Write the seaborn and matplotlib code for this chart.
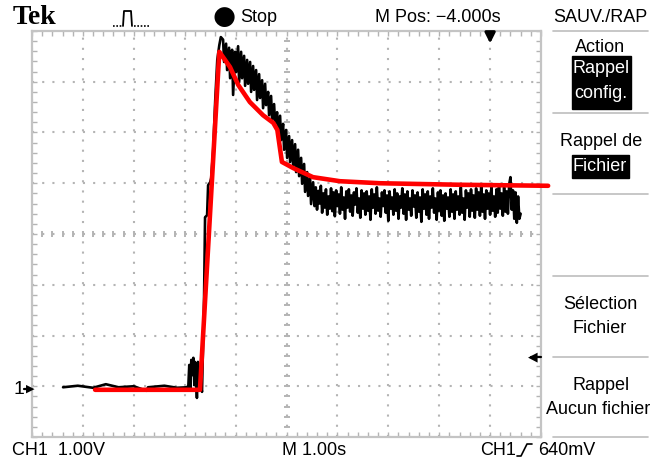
import numpy as np
import pandas as pd
import matplotlib
matplotlib.use("Agg")
import matplotlib.pyplot as plt
import seaborn as sns
from matplotlib.lines import Line2D
from matplotlib.patches import Rectangle
from matplotlib.ticker import MultipleLocator

# ---------------- data (time in s, voltage in V, ground at 0 V) ----------------
red_t = [-7.76, -5.70, -5.32, -5.11, -4.95, -4.72, -4.46, -4.26, -4.18, -4.09,
         -3.87, -3.48, -2.95, -2.16, -0.59, 1.14]
red_v = [-0.07, -0.07, 6.59, 6.29, 5.94, 5.60, 5.34, 5.19, 5.05, 4.42,
         4.30, 4.12, 4.04, 4.00, 3.97, 3.95]

base_t = [-8.39, -8.10, -7.80, -7.55, -7.30, -7.00, -6.75, -6.72, -6.40, -6.15, -5.95]
base_v = [-0.02, 0.01, -0.03, 0.04, -0.02, 0.00, -0.09, -0.02, 0.01, -0.03, -0.02]

spike_t = [-5.93, -5.91, -5.89, -5.87, -5.85, -5.83, -5.81, -5.80, -5.78, -5.76,
           -5.74, -5.72, -5.70, -5.66]
spike_v = [-0.03, 0.42, -0.03, 0.52, 0.22, 0.56, 0.02, 0.48, 0.28, -0.23,
           0.48, -0.07, 0.12, -0.11]

rise_t = [-5.62, -5.60, -5.56, -5.54, -5.50, -5.48, -5.44, -5.40, -5.36, -5.32, -5.29]
rise_v = [1.70, 3.33, 3.37, 3.96, 4.02, 4.10, 4.66, 5.64, 6.43, 6.72, 6.88]

decay_t = [-5.246, -5.226, -5.187, -5.167, -5.128, -5.108, -5.069, -5.049, -5.010, -4.990,
           -4.951, -4.931, -4.892, -4.872, -4.833, -4.813, -4.774, -4.754, -4.715, -4.695,
           -4.656, -4.637, -4.597, -4.578, -4.538, -4.519, -4.479, -4.460, -4.420, -4.401,
           -4.361, -4.342, -4.303, -4.283, -4.244, -4.224, -4.185, -4.165, -4.126, -4.106,
           -4.067, -4.047, -4.008, -3.988, -3.949, -3.929, -3.890, -3.870, -3.831, -3.811,
           -3.772, -3.752, -3.713, -3.693, -3.654, -3.635, -3.595, -3.576, -3.536, -3.517,
           -3.477]
decay_v = [6.83, 6.39, 6.75, 6.23, 6.67, 6.07, 6.63, 5.74, 6.59, 6.19,
           6.70, 5.99, 6.59, 6.07, 6.51, 5.92, 6.43, 5.96, 6.39, 5.80,
           6.31, 5.84, 6.23, 5.64, 6.15, 5.68, 6.03, 5.48, 5.96, 5.54,
           5.80, 5.34, 5.72, 5.25, 5.56, 5.17, 5.40, 5.01, 5.33, 4.85,
           5.17, 4.66, 5.05, 4.50, 4.93, 4.42, 4.85, 4.34, 4.77, 4.22,
           4.66, 4.14, 4.50, 3.99, 4.38, 3.83, 4.22, 3.75, 4.10, 3.59,
           4.02]

# plateau samples: uniform scope sampling from -3.45 s to 0.60 s
plat_v = [3.55, 3.92, 3.48, 3.85, 3.60, 3.95, 3.42, 3.80, 3.52, 3.88,
          3.38, 3.74, 3.50, 3.90, 3.45, 3.82, 3.35, 3.86, 3.55, 3.78,
          3.40, 3.92, 3.48, 3.72, 3.30, 3.84, 3.52, 3.88, 3.44, 3.76,
          3.36, 3.82, 3.58, 3.90, 3.42, 3.70, 3.32, 3.86, 3.50, 3.80,
          3.38,
          3.84, 3.46, 3.74, 3.28, 3.88, 3.52, 3.78, 3.40, 3.92, 3.46,
          3.70, 3.34, 3.82, 3.55, 3.86, 3.42, 3.76, 3.26, 3.84, 3.50,
          3.72, 3.38, 3.88, 3.46, 3.80, 3.30, 3.74, 3.52, 3.90, 3.40,
          3.78, 3.28, 3.84, 3.48, 3.70, 3.36, 3.86, 3.54, 3.76, 3.32,
          3.82,
          3.44, 3.72, 3.24, 3.88, 3.50, 3.78, 3.38, 3.84, 3.30, 3.74,
          3.52, 3.90, 3.42, 3.70, 3.28, 3.82, 3.46, 3.86, 3.36, 3.76,
          3.26, 3.80, 3.50, 3.72, 3.34, 3.88, 3.44, 3.78, 3.30, 3.84,
          3.48, 3.74, 3.38, 3.92, 3.42, 3.70, 3.28, 3.86, 3.52, 3.80,
          3.34,
          3.88, 3.46, 3.76, 3.32, 3.90, 3.48, 3.82, 3.36, 3.94, 3.44,
          3.78, 3.30, 3.86, 3.50, 3.80, 3.38, 3.92, 3.46, 3.74, 3.34,
          3.88, 3.42, 3.96, 3.50, 3.80, 3.36, 3.92, 3.44, 3.84, 3.40,
          3.98, 4.12, 3.48, 3.86, 3.30, 3.82, 3.22, 3.74, 3.30, 3.40]
plat_t = list(np.linspace(-3.45, 0.60, len(plat_v)))

black = pd.DataFrame({
    "t": base_t + spike_t + rise_t + decay_t + plat_t,
    "v": base_v + spike_v + rise_v + decay_v + plat_v,
})
red = pd.DataFrame({"t": red_t, "v": red_v})

# ---------------- figure ----------------
W, H = 657, 461
sns.set_theme(style="white")
plt.rcParams["font.family"] = ["Liberation Sans", "DejaVu Sans"]

fig = plt.figure(figsize=(W / 100, H / 100), dpi=100)
fig.patch.set_facecolor("white")
ax = fig.add_axes([32 / W, (H - 437) / H, (541 - 32) / W, (437 - 31) / H])
ax.set_xlim(-9, 1)
ax.set_ylim(-1, 7)
ax.set_facecolor("white")

gcol = "#b4b4b4"
ax.set_xticks(np.arange(-9, 1.01, 1))
ax.set_yticks(np.arange(-1, 7.01, 1))
ax.xaxis.set_minor_locator(MultipleLocator(0.2))
ax.yaxis.set_minor_locator(MultipleLocator(0.2))
ax.grid(True, which="major", color=gcol, lw=1.5, ls=(0, (1, 3.89)))
ax.tick_params(which="both", direction="in", top=True, right=True, bottom=True,
               left=True, length=3.5, width=1, color=gcol,
               labelbottom=False, labelleft=False)
for s in ax.spines.values():
    s.set_color("#c4c4c4")
    s.set_linewidth(1.6)

# centre crosshair tick marks
cy = np.arange(-1, 7.01, 0.2)
cx = np.arange(-9, 1.01, 0.2)
ax.scatter(np.full(len(cy), -4.0), cy, marker="_", s=22, color=gcol, lw=1.4, zorder=1)
ax.scatter(cx, np.full(len(cx), 3.0), marker="|", s=22, color=gcol, lw=1.4, zorder=1)

sns.lineplot(data=black, x="t", y="v", sort=False, estimator=None, color="black",
             lw=1.9, ax=ax, zorder=3)
sns.lineplot(data=red, x="t", y="v", sort=False, estimator=None, color="#ff0000",
             lw=3.3, ax=ax, zorder=4, clip_on=False, solid_joinstyle="round")
ax.set_xlabel("")
ax.set_ylabel("")

# trigger position arrow (t = 0)
ax.annotate("", xy=(0, 6.70), xytext=(0, 7.0),
            arrowprops=dict(arrowstyle="-|>", color="black", lw=2.2, mutation_scale=15))

# ---------------- screen texts ----------------
def ftxt(x, y, s, **kw):
    kw.setdefault("fontsize", 13)
    kw.setdefault("va", "center")
    kw.setdefault("color", "black")
    return fig.text(x / W, 1 - y / H, s, **kw)

ftxt(13, 17, "Tek", fontsize=20, fontweight="bold",
     family=["Liberation Serif", "DejaVu Serif"])
ftxt(212, 17, "\u25CF", fontsize=19, family=["DejaVu Sans"])
ftxt(240, 17, "Stop")
ftxt(375, 17, "M Pos: \u22124.000s")
ftxt(600, 17, "SAUV./RAP", ha="center")

# small trigger-mode icon (dotted baselines, pulse)
fig.add_artist(Line2D([113 / W, 123 / W], [1 - 26 / H, 1 - 26 / H], color="black", lw=1.2, ls=(0, (1, 1))))
fig.add_artist(Line2D([134 / W, 150 / W], [1 - 26 / H, 1 - 26 / H], color="black", lw=1.2, ls=(0, (1, 1))))
icon = [(123, 26), (124, 11), (131, 11), (132, 26)]
fig.add_artist(Line2D([p[0] / W for p in icon], [1 - p[1] / H for p in icon],
                      color="black", lw=1.3))

# right menu separators
for yy in [31, 113, 194, 276, 357, 437]:
    fig.add_artist(Line2D([553 / W, 648 / W], [1 - yy / H, 1 - yy / H], color="#bdbdbd", lw=1.2))

fig.add_artist(Rectangle((572 / W, 1 - 109 / H), 59 / W, 53 / H, color="black"))
fig.add_artist(Rectangle((572 / W, 1 - 178 / H), 57 / W, 23 / H, color="black"))

ftxt(600, 47, "Action", ha="center")
ftxt(601, 68, "Rappel", ha="center", color="white")
ftxt(601, 93, "config.", ha="center", color="white")
ftxt(601, 141, "Rappel de", ha="center")
ftxt(600, 166, "Fichier", ha="center", color="white")
ftxt(600, 304, "Sélection", ha="center")
ftxt(600, 328, "Fichier", ha="center")
ftxt(601, 385, "Rappel", ha="center")
ftxt(546, 409, "Aucun fichier", ha="left")

# left arrow marker on right edge
fig.add_artist(Line2D([531 / W, 541 / W], [1 - 357 / H, 1 - 357 / H], color="black", lw=1.6))
ftxt(533, 357, "\u25C0", fontsize=9, ha="center", family=["DejaVu Sans"])
# ground marker
ftxt(19, 389, "1", ha="center", fontsize=14)
fig.add_artist(Line2D([24 / W, 30 / W], [1 - 389 / H, 1 - 389 / H], color="black", lw=1.6))
ftxt(30, 389, "\u25B6", fontsize=8, ha="center", family=["DejaVu Sans"])

# bottom status line
ftxt(12, 450, "CH1  1.00V")
ftxt(282, 450, "M 1.00s")
ftxt(480, 450, "CH1")
slope = [(517, 456), (521, 456), (527, 444), (532, 444)]
fig.add_artist(Line2D([p[0] / W for p in slope], [1 - p[1] / H for p in slope],
                      color="black", lw=1.2))
ftxt(538, 450, "640mV")

fig.savefig("out.png", dpi=100, facecolor="white")
